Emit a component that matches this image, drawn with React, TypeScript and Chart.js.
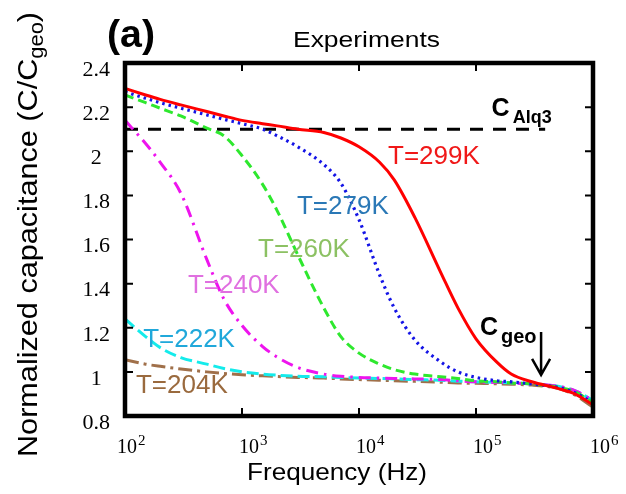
import React, { useEffect, useRef } from "react";
import { Chart, registerables } from "chart.js";

Chart.register(...registerables);

// ---- data ----
const frequencies = [100, 150, 200, 300, 500, 700, 1000, 1500, 2000, 3000, 5000, 7000, 1e4, 1.5e4, 2e4, 3e4, 5e4, 7e4, 1e5, 1.5e5, 2e5, 3e5, 5e5, 7e5, 1e6];
const t299K = [2.285, 2.255, 2.235, 2.21, 2.18, 2.16, 2.14, 2.125, 2.115, 2.1, 2.085, 2.06, 2.02, 1.95, 1.87, 1.7, 1.45, 1.29, 1.15, 1.045, 0.99, 0.955, 0.925, 0.9, 0.85];
const t279K = [2.27, 2.24, 2.22, 2.195, 2.165, 2.145, 2.125, 2.1, 2.07, 2.02, 1.94, 1.855, 1.69, 1.44, 1.29, 1.145, 1.045, 1.0, 0.975, 0.96, 0.955, 0.945, 0.93, 0.905, 0.86];
const t260K = [2.255, 2.22, 2.195, 2.16, 2.105, 2.07, 1.98, 1.85, 1.73, 1.53, 1.29, 1.16, 1.085, 1.035, 1.01, 0.99, 0.978, 0.97, 0.96, 0.955, 0.95, 0.945, 0.93, 0.91, 0.86];
const t240K = [2.14, 2.035, 1.95, 1.81, 1.51, 1.33, 1.21, 1.115, 1.067, 1.02, 0.99, 0.98, 0.975, 0.972, 0.97, 0.968, 0.965, 0.96, 0.955, 0.952, 0.95, 0.945, 0.935, 0.915, 0.87];
const t222K = [1.24, 1.16, 1.11, 1.065, 1.035, 1.015, 1.0, 0.99, 0.985, 0.98, 0.978, 0.975, 0.972, 0.97, 0.968, 0.965, 0.962, 0.958, 0.955, 0.952, 0.95, 0.945, 0.935, 0.915, 0.87];
const t204K = [1.055, 1.035, 1.025, 1.013, 1.0, 0.993, 0.987, 0.982, 0.979, 0.975, 0.972, 0.968, 0.965, 0.962, 0.96, 0.957, 0.953, 0.95, 0.948, 0.946, 0.944, 0.94, 0.925, 0.895, 0.84];
const alq3Frequencies = [100, 390000];
const alq3Values = [2.1, 2.1];

const seriesNames = ["T=299K", "T=279K", "T=260K", "T=240K", "T=222K", "T=204K"];
const seriesLabelFreq = [17700, 2950, 1370, 345, 143, 124];
const seriesLabelValue = [1.942, 1.716, 1.521, 1.357, 1.113, 0.904];

const alq3LabelPos = [136000, 2.16];
const geoLabelPos = [108000, 1.167];
const geoArrowFreq = 360000;
const geoArrowValues = [1.181, 0.986];

const xTickValues = [1e2, 1e3, 1e4, 1e5, 1e6];
const xTickBase = "10";
const xTickExponents = ["2", "3", "4", "5", "6"];
const yTickValues = [0.8, 1, 1.2, 1.4, 1.6, 1.8, 2, 2.2, 2.4];
const yTickLabels = ["0.8", "1", "1.2", "1.4", "1.6", "1.8", "2", "2.2", "2.4"];

// ---- styles ----
const SANS = "'Liberation Sans', Arial, sans-serif";
const SERIF = "'Liberation Serif', 'Times New Roman', serif";
const lineColors = ["#ff0000", "#1414e6", "#2ee82e", "#ee14ee", "#14ebeb", "#a0704a"];
const labelColors = ["#f01818", "#2a78b6", "#8cc163", "#e070e0", "#20a8da", "#9a6a3e"];
const dashes = [[], [2.5, 4], [9, 5], [12, 6, 2.5, 6], [12, 5], [14, 5, 3, 5]];
const xTickShift = [-8, -3, -3, -3, -3];

function fitText(ctx: CanvasRenderingContext2D, text: string, x: number, y: number, font: string, width?: number) {
  ctx.font = font;
  const w = ctx.measureText(text).width;
  const sx = width ? width / w : 1;
  ctx.save();
  ctx.translate(x, y);
  ctx.scale(sx, 1);
  ctx.fillText(text, 0, 0);
  ctx.restore();
}

const decorPlugin = {
  id: "decor",
  afterDatasetsDraw(chart: any) {
    const { ctx, chartArea, scales } = chart;
    const { left, right, top, bottom } = chartArea;
    const x = scales.x;
    const y = scales.y;
    ctx.save();
    ctx.strokeStyle = "#000";
    ctx.fillStyle = "#000";
    ctx.lineWidth = 2;
    ctx.setLineDash([]);
    ctx.beginPath();
    xTickValues.forEach((v) => {
      const px = x.getPixelForValue(v);
      if (px <= left + 1 || px >= right - 1) return;
      ctx.moveTo(px, bottom);
      ctx.lineTo(px, bottom - 8);
      ctx.moveTo(px, top);
      ctx.lineTo(px, top + 8);
    });
    yTickValues.forEach((v) => {
      const py = y.getPixelForValue(v);
      if (py <= top + 1 || py >= bottom - 1) return;
      ctx.moveTo(left, py);
      ctx.lineTo(left + 8, py);
      ctx.moveTo(right, py);
      ctx.lineTo(right - 8, py);
    });
    ctx.stroke();
    ctx.lineWidth = 4.5;
    ctx.strokeRect(left, top, right - left, bottom - top);

    ctx.textAlign = "left";
    ctx.textBaseline = "alphabetic";

    // x tick labels with superscript exponents, placed by the x scale
    xTickValues.forEach((v, i) => {
      const px = x.getPixelForValue(v) + xTickShift[i];
      ctx.fillStyle = "#000";
      ctx.font = `20px ${SERIF}`;
      ctx.fillText(xTickBase, px, bottom + 37);
      const w = ctx.measureText(xTickBase).width;
      ctx.font = `15px ${SERIF}`;
      ctx.fillText(xTickExponents[i], px + w + 1, bottom + 29);
    });

    // series labels
    seriesNames.forEach((name, i) => {
      ctx.fillStyle = labelColors[i];
      fitText(ctx, name, x.getPixelForValue(seriesLabelFreq[i]), y.getPixelForValue(seriesLabelValue[i]), `26px ${SANS}`);
    });

    // C_Alq3
    ctx.fillStyle = "#000";
    {
      const px = x.getPixelForValue(alq3LabelPos[0]);
      const py = y.getPixelForValue(alq3LabelPos[1]);
      ctx.font = `bold 25px ${SANS}`;
      const wc = ctx.measureText("C").width;
      ctx.fillText("C", px, py);
      ctx.font = `bold 18px ${SANS}`;
      ctx.fillText("Alq3", px + wc + 3, py + 7);
    }
    // C_geo
    {
      const px = x.getPixelForValue(geoLabelPos[0]);
      const py = y.getPixelForValue(geoLabelPos[1]);
      ctx.font = `bold 25px ${SANS}`;
      const wc = ctx.measureText("C").width;
      ctx.fillText("C", px, py);
      ctx.font = `bold 20px ${SANS}`;
      ctx.fillText("geo", px + wc + 3, py + 8);
    }
    // arrow
    {
      const ax = x.getPixelForValue(geoArrowFreq);
      const y0 = y.getPixelForValue(geoArrowValues[0]);
      const y1 = y.getPixelForValue(geoArrowValues[1]);
      ctx.lineWidth = 2.5;
      ctx.beginPath();
      ctx.moveTo(ax, y0);
      ctx.lineTo(ax, y1);
      ctx.moveTo(ax - 9, y1 - 16);
      ctx.lineTo(ax, y1);
      ctx.lineTo(ax + 9, y1 - 16);
      ctx.stroke();
    }

    // titles
    ctx.fillStyle = "#000";
    fitText(ctx, "(a)", 107, 47, `bold 38px ${SANS}`, 48);
    fitText(ctx, "Experiments", 293, 47, `22px ${SANS}`, 147);
    fitText(ctx, "Frequency (Hz)", 247, 480, `24px ${SANS}`, 180);

    // y title with subscript
    {
      const parts = [
        { t: "Normalized capacitance (C/C", f: `28px ${SANS}`, dy: 0 },
        { t: "geo", f: `20px ${SANS}`, dy: 6 },
        { t: ")", f: `28px ${SANS}`, dy: 0 },
      ];
      let total = 0;
      const widths = parts.map((p) => {
        ctx.font = p.f;
        const w = ctx.measureText(p.t).width;
        total += w;
        return w;
      });
      ctx.save();
      ctx.translate(37, 457);
      ctx.rotate(-Math.PI / 2);
      ctx.scale(445 / total, 1);
      let cx = 0;
      parts.forEach((p, i) => {
        ctx.font = p.f;
        ctx.fillText(p.t, cx, p.dy);
        cx += widths[i];
      });
      ctx.restore();
    }
    ctx.restore();
  },
};

export default function App() {
  const canvasRef = useRef<HTMLCanvasElement | null>(null);

  useEffect(() => {
    const canvas = canvasRef.current;
    if (!canvas) return;
    const seriesValues = [t299K, t279K, t260K, t240K, t222K, t204K];
    const datasets: any[] = seriesValues.map((vals, i) => ({
      label: seriesNames[i],
      data: frequencies.map((f, j) => ({ x: f, y: vals[j] })),
      borderColor: lineColors[i],
      borderWidth: i === 1 ? 3.2 : 3,
      borderDash: dashes[i],
      pointRadius: 0,
      fill: false,
      cubicInterpolationMode: "monotone",
    }));
    datasets.push({
      label: "C_Alq3",
      data: alq3Frequencies.map((f, j) => ({ x: f, y: alq3Values[j] })),
      borderColor: "#000",
      borderWidth: 3,
      borderDash: [13, 10],
      pointRadius: 0,
      fill: false,
    });

    const chart = new Chart(canvas, {
      type: "line",
      data: { datasets },
      options: {
        animation: false,
        responsive: false,
        devicePixelRatio: 1,
        layout: { padding: { top: 63, right: 33, left: 0, bottom: 0 } },
        plugins: {
          legend: { display: false },
          tooltip: { enabled: false },
          title: { display: false },
        },
        scales: {
          x: {
            type: "logarithmic",
            min: 100,
            max: 1e6,
            afterBuildTicks: (s: any) => {
              s.ticks = xTickValues.map((value) => ({ value }));
            },
            afterFit: (s: any) => {
              s.height = 78;
              s.paddingLeft = 0;
              s.paddingRight = 0;
            },
            grid: { display: false, drawTicks: false },
            border: { display: false },
            ticks: { display: false },
          },
          y: {
            type: "linear",
            min: 0.8,
            max: 2.4,
            afterBuildTicks: (s: any) => {
              s.ticks = yTickValues.map((value) => ({ value }));
            },
            afterFit: (s: any) => {
              s.width = 125;
            },
            grid: { display: false, drawTicks: false },
            border: { display: false },
            ticks: {
              crossAlign: "center",
              labelOffset: 7,
              padding: 15,
              color: "#000",
              font: { family: SERIF, size: 22 },
              callback: (_v: any, i: number) => yTickLabels[i],
            },
          },
        },
      } as any,
      plugins: [decorPlugin],
    });
    return () => chart.destroy();
  }, []);

  return (
    <div style={{ position: "absolute", left: 0, top: 0, width: 626, height: 494, background: "#fff" }}>
      <canvas ref={canvasRef} width={626} height={494} style={{ display: "block", width: 626, height: 494 }} />
    </div>
  );
}
